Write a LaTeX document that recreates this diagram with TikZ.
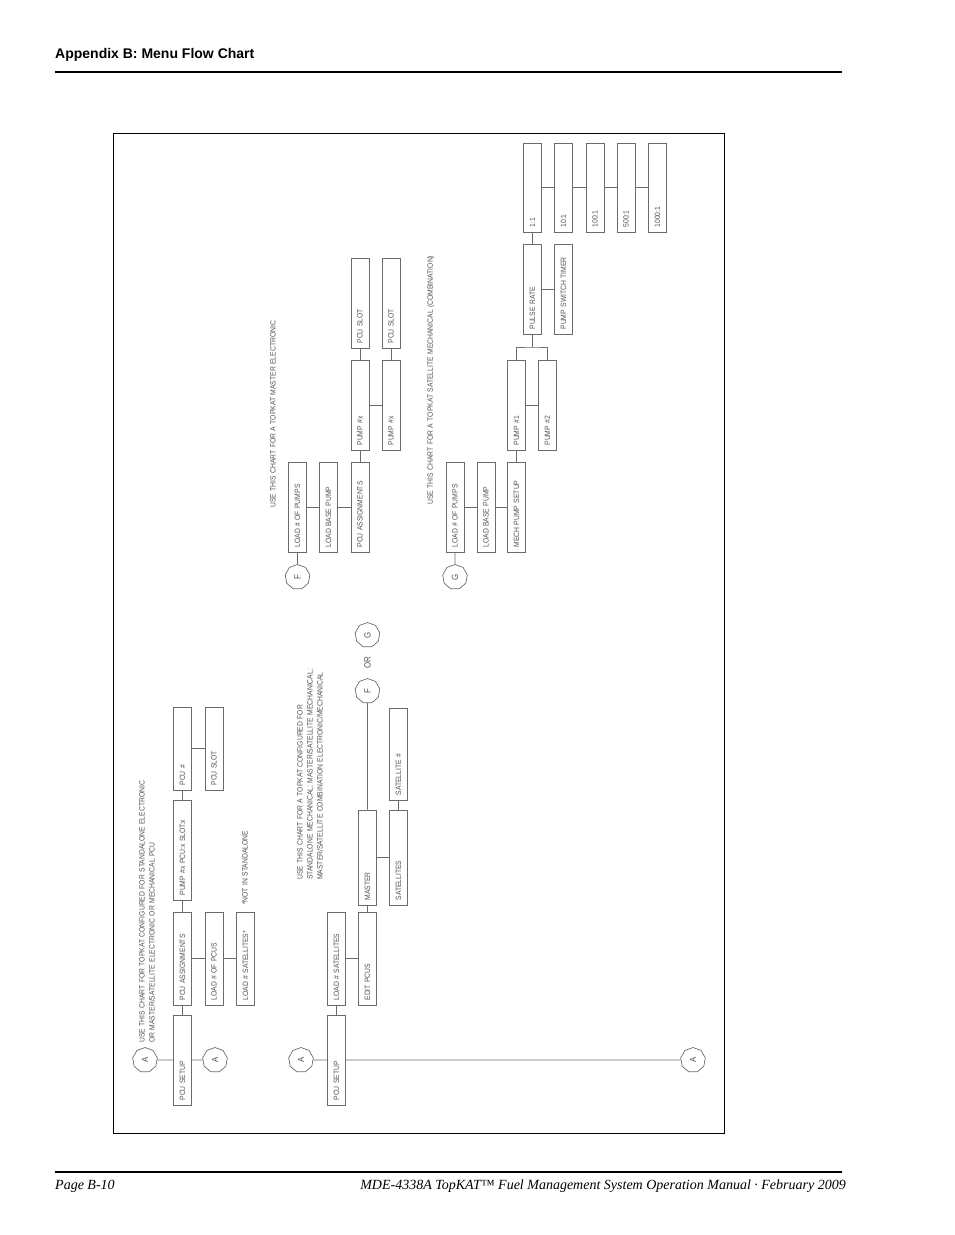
\documentclass[tikz,border=0pt]{standalone}
\usepackage{fontspec}
\usepackage{graphicx}
\usetikzlibrary{shapes.geometric}
\newfontfamily\cadfont[FakeStretch=0.88,WordSpace=1.3]{Liberation Sans}
\newfontfamily\headfont{Liberation Sans}
\newfontfamily\footfont{Liberation Serif}
\definecolor{linec}{gray}{0.42}
\definecolor{textc}{gray}{0.32}
\newcommand\cadsize{\cadfont\fontsize{7.7}{10}\selectfont}
\tikzset{
  fbox/.style={draw=linec, line width=0.7pt, minimum width=18pt, inner sep=0pt,
               text=textc, font=\cadsize},
  conn/.style={draw=linec, line width=0.7pt},
  ref/.style={draw=linec, line width=0.7pt, regular polygon, regular polygon sides=9,
              minimum size=25pt, inner sep=0pt, text=textc, font=\cadfont\fontsize{9}{10}\selectfont},
  note/.style={rotate=90, anchor=north west, inner sep=0pt, align=left, text=textc, font=\cadsize}
}
\newcommand\flowbox[5]{\node[fbox, minimum height={#3pt-#4pt}] (#1) at (#2,{(#3+#4)/2})
  {\rotatebox{90}{\makebox[\dimexpr#3pt-#4pt-9pt\relax][l]{#5}}};}
\begin{document}
\begin{tikzpicture}[x=1pt,y=-1pt]
\useasboundingbox (0,0) rectangle (954,1235);
% page header / footer
\node[anchor=base west, inner sep=0pt, font=\headfont\bfseries\fontsize{14}{16}\selectfont] (head) at (55,58) {Appendix B: Menu Flow Chart};
\draw[line width=1.2pt] (55,72) -- (842,72);
\draw[line width=1.2pt] (55,1172) -- (842,1172);
\node[anchor=base west, inner sep=0pt, font=\footfont\itshape\fontsize{14}{16}\selectfont] (pg) at (55,1189) {Page B-10};
\node[anchor=base east, inner sep=0pt, font=\footfont\itshape\fontsize{14}{16}\selectfont] (man) at (846,1189) {MDE-4338A TopKAT™ Fuel Management System Operation Manual · February 2009};
% frame
\draw[line width=0.9pt] (113,133) rectangle (724,1133);

% ---------------- chart 1 ----------------
\node[note] (t1) at (139,1043) {USE THIS CHART FOR TOPKAT CONFIGURED FOR STANDALONE ELECTRONIC\\OR MASTER/SATELLITE ELECTRONIC OR MECHANICAL PCU};
\node[ref] (a1) at (145,1060) {\rotatebox{90}{A}};
\flowbox{pcusetupA}{182.5}{1105}{1015}{PCU SETUP}
\node[ref] (a2) at (215,1060) {\rotatebox{90}{A}};
\flowbox{pcuassignA}{182.5}{1005}{912}{PCU ASSIGNMENTS}
\flowbox{loadpcus}{214}{1005}{912}{LOAD \# OF PCUS}
\flowbox{loadsatsA}{245.5}{1005}{912}{LOAD \# SATELLITES*}
\flowbox{pumppcu}{182.5}{900}{800}{PUMP \#x PCU:x SLOT:x}
\flowbox{pcunum}{182.5}{790}{707}{PCU \#}
\flowbox{pcuslotA}{214}{790}{707}{PCU SLOT}
\node[note] (nostand) at (242,905) {*NOT IN STANDALONE};
\draw[conn] (a1) -- (pcusetupA);
\draw[conn] (pcusetupA) -- (a2);
\draw[conn] (pcusetupA.north) -- (pcuassignA.south);
\draw[conn] (pcuassignA.east) -- (loadpcus.west);
\draw[conn] (loadpcus.east) -- (loadsatsA.west);
\draw[conn] (pcuassignA.north) -- (pumppcu.south);
\draw[conn] (pumppcu.north) -- (pcunum.south);
\draw[conn] (pcunum.east) -- (pcuslotA.west);

% ---------------- chart 2 ----------------
\node[note] (t2) at (297,880) {USE THIS CHART FOR A TOPKAT CONFIGURED FOR\\STANDALONE MECHANICAL; MASTER/SATELLITE MECHANICAL;\\MASTER/SATELLITE COMBINATION ELECTRONIC/MECHANICAL};
\node[ref] (a3) at (301,1060) {\rotatebox{90}{A}};
\flowbox{pcusetupB}{336.5}{1105}{1015}{PCU SETUP}
\node[ref] (a4) at (693,1060) {\rotatebox{90}{A}};
\flowbox{loadsatsB}{336.5}{1005}{912}{LOAD \# SATELLITES}
\flowbox{editpcus}{367.5}{1005}{912}{EDIT PCUS}
\flowbox{master}{367.5}{905}{810}{MASTER}
\flowbox{satellites}{398.5}{905}{810}{SATELLITES}
\flowbox{satnum}{398.5}{800}{708}{SATELLITE \#}
\node[ref] (f2) at (367.5,691) {\rotatebox{90}{F}};
\node[rotate=90, inner sep=0pt, text=textc, font=\cadfont\fontsize{9}{10}\selectfont] (or) at (367.5,663) {OR};
\node[ref] (g2) at (367.5,635) {\rotatebox{90}{G}};
\draw[conn] (a3) -- (pcusetupB);
\draw[conn] (pcusetupB) -- (a4);
\draw[conn] (pcusetupB.north) -- (loadsatsB.south);
\draw[conn] (loadsatsB.east) -- (editpcus.west);
\draw[conn] (editpcus.north) -- (master.south);
\draw[conn] (master.east) -- (satellites.west);
\draw[conn] (satellites.north) -- (satnum.south);
\draw[conn] (master.north) -- (f2);

% ---------------- chart F ----------------
\node[note] (tf) at (270,508) {USE THIS CHART FOR A TOPKAT MASTER ELECTRONIC};
\node[ref] (f) at (297.5,577) {\rotatebox{90}{F}};
\flowbox{loadpumpsF}{297.5}{552}{462}{LOAD \# OF PUMPS}
\flowbox{basepumpF}{328.5}{552}{462}{LOAD BASE PUMP}
\flowbox{pcuassignF}{360}{552}{462}{PCU ASSIGNMENTS}
\flowbox{pumpxA}{360}{450}{360}{PUMP \#x}
\flowbox{pumpxB}{391}{450}{360}{PUMP \#x}
\flowbox{pcuslotF}{360}{348}{258}{PCU SLOT}
\flowbox{pcuslotG}{391}{348}{258}{PCU SLOT}
\draw[conn] (f) -- (loadpumpsF.south);
\draw[conn] (loadpumpsF.east) -- (basepumpF.west);
\draw[conn] (basepumpF.east) -- (pcuassignF.west);
\draw[conn] (pcuassignF.north) -- (pumpxA.south);
\draw[conn] (pumpxA.east) -- (pumpxB.west);
\draw[conn] (pumpxA.north) -- (pcuslotF.south);
\draw[conn] (pumpxB.north) -- (pcuslotG.south);

% ---------------- chart G ----------------
\node[note] (tg) at (427,505) {USE THIS CHART FOR A TOPKAT SATELLITE MECHANICAL (COMBINATION)};
\node[ref] (g) at (455,577) {\rotatebox{90}{G}};
\flowbox{loadpumpsG}{455}{552}{462}{LOAD \# OF PUMPS}
\flowbox{basepumpG}{486}{552}{462}{LOAD BASE PUMP}
\flowbox{mechsetup}{516.5}{552}{462}{MECH PUMP SETUP}
\flowbox{pumpone}{516.5}{450}{360}{PUMP \#1}
\flowbox{pumptwo}{547.5}{450}{360}{PUMP \#2}
\flowbox{pulserate}{532.5}{334}{244}{PULSE RATE}
\flowbox{pumpswitch}{563.5}{334}{244}{PUMP SWITCH TIMER}
\flowbox{rone}{532.5}{232}{143}{1:1}
\flowbox{rten}{563.5}{232}{143}{10:1}
\flowbox{rhund}{595}{232}{143}{100:1}
\flowbox{rfive}{626}{232}{143}{500:1}
\flowbox{rthou}{657.5}{232}{143}{1000:1}
\coordinate (br) at (532.5,347);
\draw[conn] (g) -- (loadpumpsG.south);
\draw[conn] (loadpumpsG.east) -- (basepumpG.west);
\draw[conn] (basepumpG.east) -- (mechsetup.west);
\draw[conn] (mechsetup.north) -- (pumpone.south);
\draw[conn] (pumpone.east) -- (pumptwo.west);
\draw[conn] (pumpone.north) |- (br) -| (pumptwo.north);
\draw[conn] (br) -- (pulserate.south);
\draw[conn] (pulserate.east) -- (pumpswitch.west);
\draw[conn] (pulserate.north) -- (rone.south);
\draw[conn] (rone.east) -- (rten.west);
\draw[conn] (rten.east) -- (rhund.west);
\draw[conn] (rhund.east) -- (rfive.west);
\draw[conn] (rfive.east) -- (rthou.west);
\end{tikzpicture}
\end{document}
